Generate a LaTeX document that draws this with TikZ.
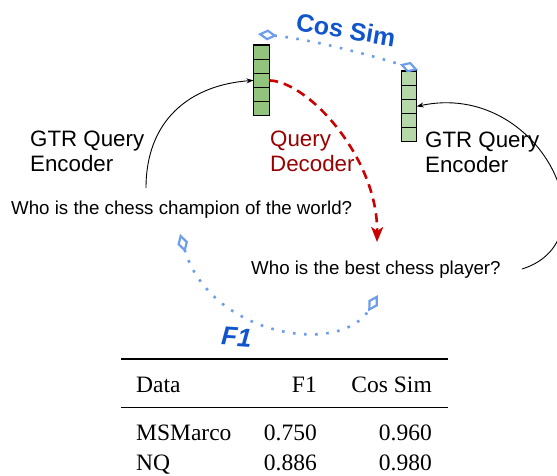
\documentclass[tikz,border=0pt]{standalone}
\usepackage{fontspec}
\setmainfont{Liberation Sans}
\newfontfamily\tabfont{Liberation Serif}
\usetikzlibrary{arrows.meta}
\definecolor{cellA}{HTML}{93C47D}
\definecolor{cellB}{HTML}{B6D7A8}
\definecolor{simblue}{HTML}{1155CC}
\definecolor{dotblue}{HTML}{6D9EEB}
\definecolor{decred}{HTML}{990000}
\definecolor{arrred}{HTML}{CC0000}
\begin{document}
\begin{tikzpicture}[x=1pt,y=-1pt,
  cellbox/.style={draw=black,line width=1.2pt,minimum width=15.7pt,minimum height=14.15pt,inner sep=0pt,outer sep=0pt},
  lbl/.style={inner sep=0pt,anchor=base west,align=left,font=\fontsize{22.3}{25}\selectfont},
  question/.style={inner sep=0pt,anchor=base west,font=\fontsize{18.7}{22}\selectfont},
  tab/.style={inner sep=0pt,font=\tabfont\fontsize{23.5}{26}\selectfont},
  enc/.style={draw=black,line width=0.9pt,-{Stealth[length=7pt,width=5pt]}},
  dec/.style={draw=arrred,line width=2.6pt,dash pattern=on 9pt off 6pt,-{Stealth[length=15pt,width=12pt,inset=4pt]}},
  simline/.style={draw=dotblue,line width=2.6pt,dash pattern=on 2.6pt off 8.5pt,
     {Diamond[open,length=19pt,width=11pt,line width=2.2pt]}-{Diamond[open,length=19pt,width=11pt,line width=2.2pt]}}
]
\useasboundingbox (0,0) rectangle (557,475);

% vectors
\foreach \i in {1,...,5}{
  \node[cellbox,fill=cellA] (l\i) at (261.3,{45+14.15*(\i-0.5)}) {};
  \node[cellbox,fill=cellB,minimum width=15pt] (r\i) at (409.2,{71+14.15*(\i-0.5)}) {};
}

% labels
\node[lbl] (encL) at (30,171) {GTR Query\\Encoder};
\node[lbl] (encR) at (425,172) {GTR Query\\Encoder};
\node[lbl,text=decred] (decq) at (270,171) {Query\\Decoder};
\node[question] (q1) at (11,214) {Who is the chess champion of the world?};
\node[question] (q2) at (251,274) {Who is the best chess player?};

\node[inner sep=0pt,anchor=base,rotate=-9.5,text=simblue,font=\fontsize{25}{28}\selectfont\bfseries] (cossim) at (344.5,38.5) {Cos Sim};
\node[inner sep=0pt,anchor=base,rotate=-4,text=simblue,font=\fontsize{26}{28}\selectfont\bfseries\itshape] (fone) at (236,346) {F1};

% connectors
\coordinate (s1) at (146,188);
\coordinate (s2) at (522,269);
\coordinate (dtip) at (377,242);
\draw[enc] (s1) .. controls (146,120) and (190,85) .. (l3.west);
\draw[enc] (s2) .. controls (615,240) and (540,80) .. (r3.east);
\draw[dec] (l3.east) .. controls (310,82) and (378,160) .. (dtip);

\coordinate (c1) at (258,34);
\coordinate (c2) at (418,70);
\draw[simline] (c1) .. controls (309,39) and (367,54) .. (c2);
\coordinate (f1) at (180,234);
\coordinate (f2) at (378,295);
\draw[simline] (f1) .. controls (210,335) and (340,358) .. (f2);

% table
\draw[line width=1.5pt] (121,359) -- (448,359);
\draw[line width=0.9pt] (121,407) -- (448,407);
\node[tab,anchor=base west] (hd) at (136,392) {Data};
\node[tab,anchor=base east] (hf) at (317,392) {F1};
\node[tab,anchor=base east] (hc) at (432,392) {Cos Sim};
\node[tab,anchor=base west] (ad) at (136,440) {MSMarco};
\node[tab,anchor=base east] (af) at (317,440) {0.750};
\node[tab,anchor=base east] (ac) at (432,440) {0.960};
\node[tab,anchor=base west] (bd) at (136,470) {NQ};
\node[tab,anchor=base east] (bf) at (317,470) {0.886};
\node[tab,anchor=base east] (bc) at (432,470) {0.980};
\end{tikzpicture}
\end{document}
